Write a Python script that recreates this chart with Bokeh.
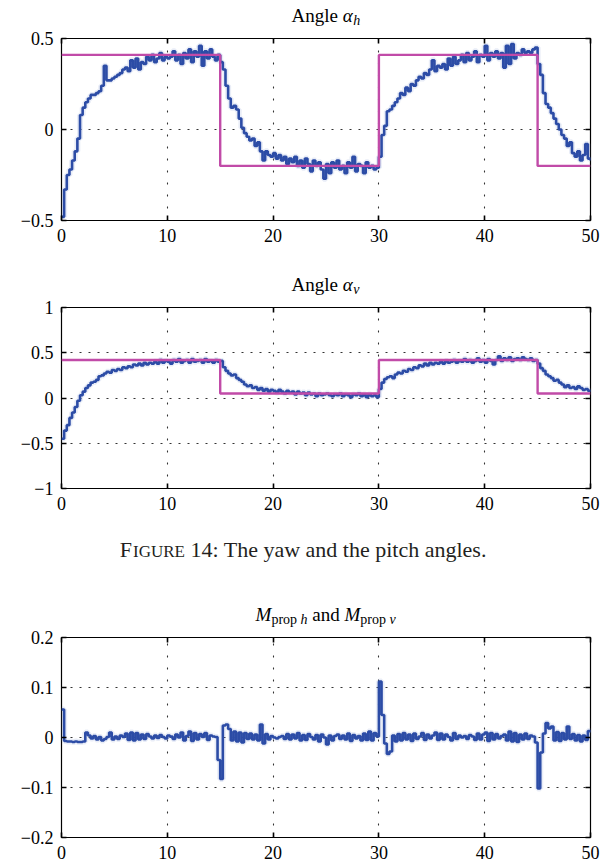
from bokeh.plotting import figure
from bokeh.models import Range1d, LinearAxis, FixedTicker, Label, Grid
from bokeh.layouts import column
from bokeh.embed import file_html
from bokeh.resources import INLINE

# ---------------------------------------------------------------- data
DT = 0.25  # sample spacing of the logged signals [s]

# yaw angle alpha_h (measured)
alpha_h = [
    -0.48, -0.33, -0.25, -0.22, -0.17, -0.12, -0.05, 0.08,
    0.12, 0.15, 0.17, 0.19, 0.19, 0.20, 0.21, 0.24,
    0.35, 0.27, 0.27, 0.28, 0.29, 0.30, 0.31, 0.33,
    0.34, 0.32, 0.38, 0.34, 0.39, 0.33, 0.37, 0.36,
    0.40, 0.38, 0.41, 0.37, 0.39, 0.42, 0.38, 0.40,
    0.39, 0.40, 0.43, 0.38, 0.41, 0.36, 0.42, 0.39,
    0.44, 0.37, 0.43, 0.40, 0.46, 0.35, 0.43, 0.39,
    0.44, 0.40, 0.38, 0.41, 0.37, 0.33, 0.24, 0.17,
    0.12, 0.13, 0.11, 0.06, 0.01, -0.02, -0.04, -0.06,
    -0.05, -0.09, -0.07, -0.12, -0.17, -0.12, -0.14, -0.15,
    -0.13, -0.16, -0.14, -0.17, -0.15, -0.19, -0.16, -0.18,
    -0.15, -0.20, -0.17, -0.21, -0.16, -0.19, -0.23, -0.17,
    -0.20, -0.18, -0.22, -0.27, -0.19, -0.24, -0.18, -0.21,
    -0.17, -0.22, -0.20, -0.24, -0.18, -0.21, -0.15, -0.23,
    -0.19, -0.20, -0.24, -0.18, -0.21, -0.20, -0.22, -0.21,
    -0.15, -0.03, 0.02, 0.10, 0.11, 0.13, 0.15, 0.17,
    0.20, 0.19, 0.23, 0.21, 0.25, 0.24, 0.27, 0.29,
    0.28, 0.31, 0.30, 0.33, 0.38, 0.32, 0.35, 0.34,
    0.36, 0.33, 0.39, 0.35, 0.40, 0.36, 0.38, 0.41,
    0.37, 0.42, 0.38, 0.40, 0.43, 0.37, 0.41, 0.40,
    0.46, 0.38, 0.42, 0.40, 0.43, 0.39, 0.42, 0.34,
    0.46, 0.36, 0.47, 0.39, 0.42, 0.41, 0.44, 0.42,
    0.43, 0.42, 0.44, 0.45, 0.36, 0.30, 0.20, 0.14,
    0.12, 0.09, 0.06, 0.03, 0.00, -0.03, -0.05, -0.09,
    -0.07, -0.13, -0.15, -0.12, -0.17, -0.14, -0.08, -0.16,
    -0.17,
]

# pitch angle alpha_v (measured)
alpha_v = [
    -0.45, -0.36, -0.30, -0.22, -0.16, -0.10, -0.03, 0.03,
    0.07, 0.11, 0.14, 0.17, 0.18, 0.20, 0.24, 0.25,
    0.27, 0.29, 0.28, 0.31, 0.30, 0.32, 0.31, 0.34,
    0.33, 0.35, 0.34, 0.37, 0.36, 0.38, 0.36, 0.39,
    0.37, 0.39, 0.38, 0.40, 0.38, 0.42, 0.39, 0.41,
    0.40, 0.38, 0.42, 0.40, 0.43, 0.39, 0.41, 0.42,
    0.39, 0.43, 0.40, 0.41, 0.42, 0.39, 0.43, 0.40,
    0.41, 0.39, 0.42, 0.40, 0.41, 0.34, 0.30, 0.27,
    0.25, 0.26, 0.22, 0.20, 0.18, 0.15, 0.13, 0.14,
    0.11, 0.12, 0.09, 0.11, 0.08, 0.10, 0.07, 0.09,
    0.08, 0.06, 0.09, 0.07, 0.05, 0.08, 0.06, 0.07,
    0.04, 0.07, 0.05, 0.06, 0.03, 0.06, 0.04, 0.05,
    0.02, 0.05, 0.03, 0.04, 0.05, 0.03, 0.02, 0.04,
    0.03, 0.05, 0.02, 0.04, 0.03, 0.01, 0.04, 0.03,
    0.05, 0.02, 0.04, 0.01, 0.04, 0.02, 0.03, 0.01,
    0.10, 0.17, 0.21, 0.23, 0.24, 0.22, 0.26, 0.28,
    0.27, 0.30, 0.29, 0.32, 0.31, 0.34, 0.33, 0.36,
    0.35, 0.38, 0.36, 0.39, 0.37, 0.39, 0.38, 0.40,
    0.38, 0.41, 0.39, 0.40, 0.42, 0.39, 0.41, 0.40,
    0.43, 0.40, 0.42, 0.39, 0.41, 0.44, 0.40, 0.42,
    0.39, 0.43, 0.41, 0.37, 0.42, 0.46, 0.41, 0.44,
    0.42, 0.45, 0.41, 0.43, 0.44, 0.42, 0.45, 0.43,
    0.42, 0.44, 0.41, 0.42, 0.38, 0.33, 0.30, 0.26,
    0.24, 0.22, 0.19, 0.20, 0.17, 0.15, 0.12, 0.14,
    0.11, 0.12, 0.10, 0.13, 0.11, 0.09, 0.10, 0.08,
    0.07,
]

# propeller moment M_prop (h and v traces overlap on this scale)
m_prop = [
    0.056, -0.007, -0.008, -0.008, -0.009, -0.008, -0.009, -0.009,
    -0.008, 0.010, 0.004, -0.002, 0.003, -0.004, 0.001, -0.006,
    -0.003, 0.001, 0.010, -0.004, 0.002, -0.003, 0.004, 0.001,
    0.008, -0.005, 0.010, -0.006, 0.009, -0.004, 0.006, -0.003,
    0.007, 0.002, -0.002, 0.004, -0.001, 0.005, 0.001, -0.002,
    0.004, 0.002, -0.003, 0.006, 0.000, 0.010, -0.006, 0.003,
    0.012, -0.007, 0.009, -0.004, 0.007, 0.001, 0.009, -0.005,
    0.004, 0.002, 0.001, -0.045, -0.083, 0.024, 0.026, 0.017,
    -0.006, 0.012, -0.008, 0.010, -0.010, 0.009, -0.003, 0.008,
    -0.004, 0.006, -0.006, 0.026, -0.012, 0.007, -0.004, 0.003,
    0.000, -0.002, 0.001, 0.003, -0.003, 0.007, -0.004, 0.006,
    -0.002, 0.009, -0.006, 0.005, -0.005, 0.007, 0.001, -0.004,
    0.005, -0.008, 0.006, 0.000, -0.014, 0.004, -0.006, 0.003,
    0.006, -0.003, 0.004, -0.004, 0.008, -0.007, 0.005, -0.002,
    0.003, -0.006, 0.008, -0.005, 0.012, -0.006, 0.009, 0.002,
    0.112, 0.045, -0.012, -0.033, -0.028, 0.004, -0.008, 0.007,
    -0.006, 0.009, -0.004, 0.006, -0.007, 0.008, -0.003, 0.002,
    0.009, -0.005, 0.006, -0.002, 0.004, 0.010, -0.005, 0.008,
    -0.004, 0.006, 0.001, -0.006, 0.009, -0.003, 0.004, 0.000,
    0.003, -0.003, 0.005, 0.002, -0.005, 0.008, -0.004, 0.006,
    0.010, -0.007, 0.009, -0.004, 0.007, -0.002, 0.003, 0.006,
    -0.006, 0.012, -0.008, 0.009, -0.009, 0.006, -0.004, 0.008,
    -0.003, 0.004, 0.002, -0.010, -0.102, -0.030, 0.008, 0.029,
    0.018, 0.022, -0.006, 0.011, -0.007, 0.009, -0.004, 0.022,
    -0.003, 0.007, -0.006, 0.005, -0.008, 0.004, -0.005, 0.013,
    0.010,
]

# square-wave references (value holds from each switching time on)
ref_t = [0, 15, 30, 45, 50]
ref_h = [0.41, -0.20, 0.41, -0.20, -0.20]
ref_v = [0.42, 0.05, 0.42, 0.05, 0.05]

x_ticks = [0, 10, 20, 30, 40, 50]
y_ticks_h = [-0.5, 0, 0.5]
y_labels_h = ["\u22120.5", "0", "0.5"]
y_ticks_v = [-1, -0.5, 0, 0.5, 1]
y_labels_v = ["\u22121", "\u22120.5", "0", "0.5", "1"]
y_ticks_m = [-0.2, -0.1, 0, 0.1, 0.2]
y_labels_m = ["\u22120.2", "\u22120.1", "0", "0.1", "0.2"]

t = [i * DT for i in range(len(alpha_h))]

# ---------------------------------------------------------------- style
BLUE = "#2c4ca6"
HALO = "#8fa3d8"
PINK = "#c14ba8"
INK = "#231f20"
SERIF = "Liberation Serif"
TICK_PX = 18
W_TOTAL = 616
LEFT, RIGHT = 61, 26
CX = LEFT + (W_TOTAL - LEFT - RIGHT) / 2  # horizontal centre of the frames


def text_strip(height):
    """Blank canvas for headings; its x data units are page pixels."""
    f = figure(width=W_TOTAL, height=height,
               x_range=Range1d(LEFT, W_TOTAL - RIGHT), y_range=Range1d(0, height),
               x_axis_type=None, y_axis_type=None, title=None,
               output_backend="svg", toolbar_location=None,
               min_border_left=LEFT, min_border_right=RIGHT,
               min_border_top=0, min_border_bottom=0)
    f.outline_line_color = None
    f.background_fill_color = "white"
    f.border_fill_color = "white"
    return f


def put(strip, x, baseline, text, size, style="normal", align="left", color="black"):
    """Place one run of text; baseline is measured in px from the strip top."""
    height = strip.y_range.end
    mid = baseline - 0.32 * size  # vertical middle of the text box
    strip.add_layout(Label(
        x=x, y=height - mid, text=text, text_font=SERIF,
        text_font_size=f"{size}px", text_font_style=style, text_color=color,
        text_align=align, text_baseline="middle"))


def panel(height, top, bottom, y_rng, y_ticks, y_labels):
    p = figure(width=W_TOTAL, height=height, x_range=Range1d(0, 50),
               y_range=Range1d(*y_rng), x_axis_type=None, y_axis_type=None,
               title=None, output_backend="svg", toolbar_location=None,
               min_border_left=LEFT, min_border_right=RIGHT,
               min_border_top=top, min_border_bottom=bottom)
    p.outline_line_color = "black"
    p.outline_line_width = 1.2
    p.background_fill_color = "white"
    p.border_fill_color = "white"

    overrides = {float(v): s for v, s in zip(y_ticks, y_labels)}
    for side, ticks, labelled in (("below", x_ticks, True), ("above", x_ticks, False),
                                  ("left", y_ticks, True), ("right", y_ticks, False)):
        ax = LinearAxis(ticker=FixedTicker(ticks=ticks))
        ax.axis_line_color = None
        ax.major_tick_in = 5
        ax.major_tick_out = 0
        ax.major_tick_line_width = 1.6
        ax.major_tick_line_color = "black"
        ax.minor_tick_line_color = None
        ax.major_label_text_font = SERIF
        if labelled:
            ax.major_label_text_color = "black"
            ax.major_label_text_font_size = f"{TICK_PX}px"
            ax.major_label_standoff = 8
            if side == "left":
                ax.major_label_overrides = overrides
        else:
            # tick marks only on the top and right edges of the box
            ax.major_label_text_color = None
            ax.major_label_text_font_size = "1px"
            ax.major_label_standoff = 0
        p.add_layout(ax, side)

    p.add_layout(Grid(dimension=0, ticker=FixedTicker(ticks=x_ticks),
                      grid_line_color="#333333", grid_line_width=1.1,
                      grid_line_dash="2 10"))
    p.add_layout(Grid(dimension=1, ticker=FixedTicker(ticks=y_ticks),
                      grid_line_color="#333333", grid_line_width=1.1,
                      grid_line_dash="2 7"))
    return p


def signal(p, y):
    p.step(t, y, mode="after", line_color=HALO, line_width=6, line_alpha=0.2)
    p.step(t, y, mode="after", line_color=BLUE, line_width=2.6)


def angle_title(strip, baseline, sub):
    # "Angle" ends at b; the italic alpha and its subscript follow it
    b = CX + 12
    put(strip, b, baseline, "Angle", 19, align="right")
    put(strip, b + 4.75, baseline, "\u03b1", 19, "italic")
    put(strip, b + 15.25, baseline + 3, sub, 14, "italic")


# ---------------------------------------------------------------- yaw
t1 = text_strip(28)
angle_title(t1, 21.5, "h")
p1 = panel(234, 10, 42, (-0.5, 0.5), y_ticks_h, y_labels_h)
signal(p1, alpha_h)
p1.step(ref_t, ref_h, mode="after", line_color=PINK, line_width=2.4)

# ---------------------------------------------------------------- pitch
t2 = text_strip(35)
angle_title(t2, 28.5, "\u03bd")
p2 = panel(223, 10, 32, (-1, 1), y_ticks_v, y_labels_v)
signal(p2, alpha_v)
p2.step(ref_t, ref_v, mode="after", line_color=PINK, line_width=2.4)

# ---------------------------------------------------------------- caption
cap = text_strip(62)
x_num = 190  # left edge of "14: ..."
put(cap, x_num - 5.5 - 53, 36, "F", 22, align="right", color=INK)
put(cap, x_num - 5.5, 36, "IGURE", 17, align="right", color=INK)
put(cap, x_num, 36, "14: The yaw and the pitch angles.", 22, color=INK)

# ---------------------------------------------------------------- moment
t3 = text_strip(45)
base, sub = 38.5, 41.5
put(t3, CX, base, "and", 19, align="center")
put(t3, CX - 54.65, base, "M", 19, "italic", align="right")
put(t3, CX - 28.95, sub, "prop", 14, align="right")
put(t3, CX - 18.45, sub, "h", 14, "italic", align="right")
put(t3, CX + 18.45, base, "M", 19, "italic")
put(t3, CX + 34.25, sub, "prop", 14)
put(t3, CX + 63.45, sub, "\u03bd", 14, "italic")
p3 = panel(237, 10, 27, (-0.2, 0.2), y_ticks_m, y_labels_m)
signal(p3, m_prop)

layout = column(t1, p1, t2, p2, cap, t3, p3, spacing=0)
open("out.html", "w").write(file_html(layout, INLINE))
